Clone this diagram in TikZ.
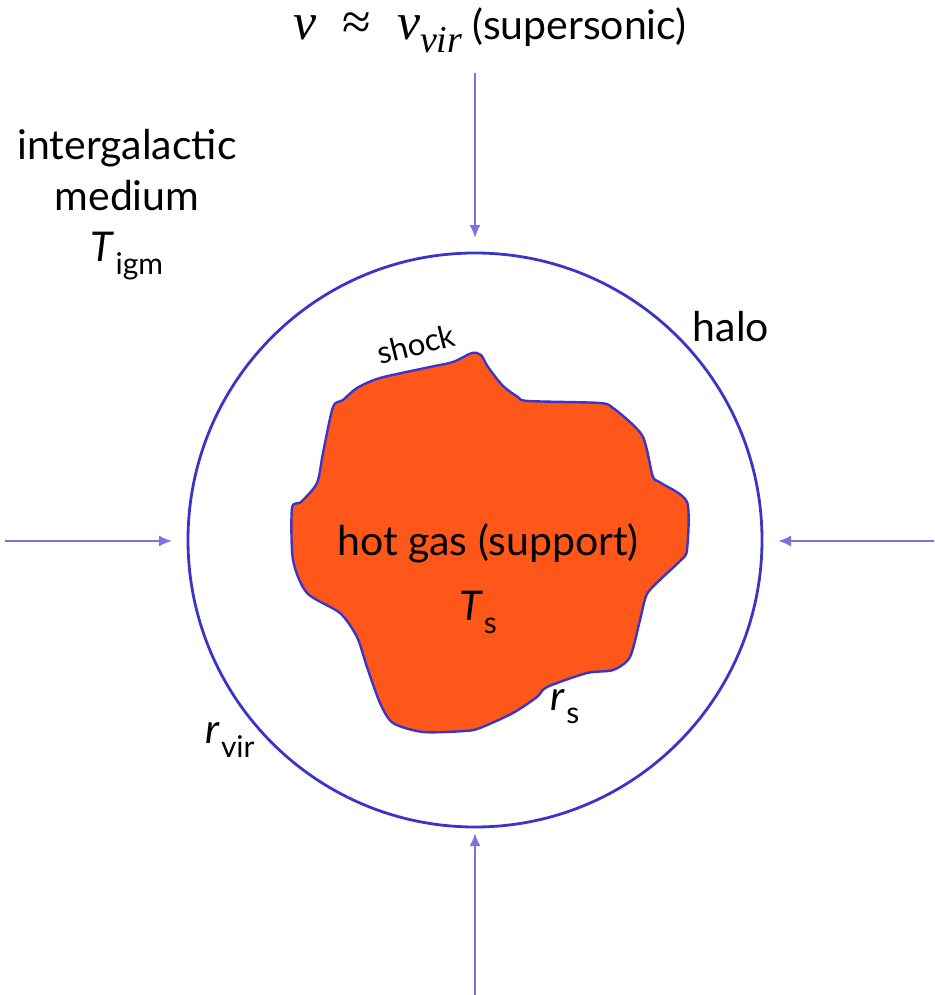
\documentclass[tikz,border=0pt]{standalone}
\usepackage{fontspec}
\setmainfont{Lato}
\setsansfont{Lato}
\newfontfamily\mathserif{Liberation Serif}
\usepackage{tikz}
\usetikzlibrary{arrows.meta}
\definecolor{halo}{HTML}{3A35C8}
\definecolor{inflow}{HTML}{7B72E0}
\definecolor{hotgas}{HTML}{FF5719}
% italic sans variable with upright subscript
\newcommand{\varsub}[2]{\textit{#1}\kern1pt\raisebox{-0.32em}{\fontsize{30}{30}\selectfont #2}}
% serif italic variable with italic subscript
\newcommand{\mathsub}[2]{{\mathserif\itshape #1\raisebox{-0.25em}{\fontsize{38}{38}\selectfont #2}}}

\begin{document}
\begin{tikzpicture}[
  x=1pt,y=-1pt,
  label/.style={font=\fontsize{41}{51}\selectfont,align=center,inner sep=0pt},
  small/.style={font=\fontsize{31}{36}\selectfont,inner sep=0pt},
  mathbig/.style={font=\fontsize{52}{52}\mathserif\selectfont},
  arrow/.style={-{Latex[length=13pt,width=11pt]},line width=2pt,draw=inflow},
  halo circle/.style={circle,draw=halo,line width=2.8pt,minimum size=574pt,inner sep=0pt}
]
\useasboundingbox (0,0) rectangle (934,995);
\node[halo circle] (halo) at (475,540) {};

% hot gas region behind the shock
\filldraw[fill=hotgas,draw=halo,line width=2.4pt]
  plot[smooth cycle,tension=0.45] coordinates {
  (453,362) (472,353) (481,355) (488,367) (503,386) (518,397)
  (528,401) (600,403) (613,408) (630,422) (642,435) (647,450) (653,477)
  (661,483) (687,502) (687,550) (680,561) (663,577) (647,594) (640,620)
  (630,657) (613,670) (587,673) (547,687) (537,697) (513,713) (480,728)
  (465,731) (423,732) (393,723) (380,703) (367,667) (357,637) (340,613)
  (307,593) (293,560) (292,508) (301,502) (317,483) (323,453) (333,407)
  (343,400) (357,388) (380,378) (430,367)};

\coordinate (topin) at (475,73);
\coordinate (topend) at (475,238);
\coordinate (leftin) at (5,541);
\coordinate (leftend) at (172,541);
\coordinate (rightin) at (934,541);
\coordinate (rightend) at (778,541);
\coordinate (botin) at (475,995);
\coordinate (botend) at (475,833);

\node[label,anchor=base] (vel) at (490,40)
  {{\fontsize{52}{52}\mathserif\itshape v\ \ \upshape≈\ \ \mathsub{v}{vir}} (supersonic)};
\node[label] (igm) at (127,205) {intergalactic\\medium\\\varsub{T}{igm}};
\node[label] (halolbl) at (731,327) {halo};
\node[small,rotate=14] (shock) at (416,344) {shock};
\node[label] (gas) at (488,543) {hot gas (support)};
\node[label] (ts) at (478,612) {\varsub{T}{s}};
\node[label] (rs) at (565,707) {\varsub{r}{s}};
\node[label] (rvir) at (230,740) {\varsub{r}{vir}};

\draw[arrow] (topin) -- (topend);
\draw[arrow] (leftin) -- (leftend);
\draw[arrow] (rightin) -- (rightend);
\draw[arrow] (botin) -- (botend);
\end{tikzpicture}
\end{document}
